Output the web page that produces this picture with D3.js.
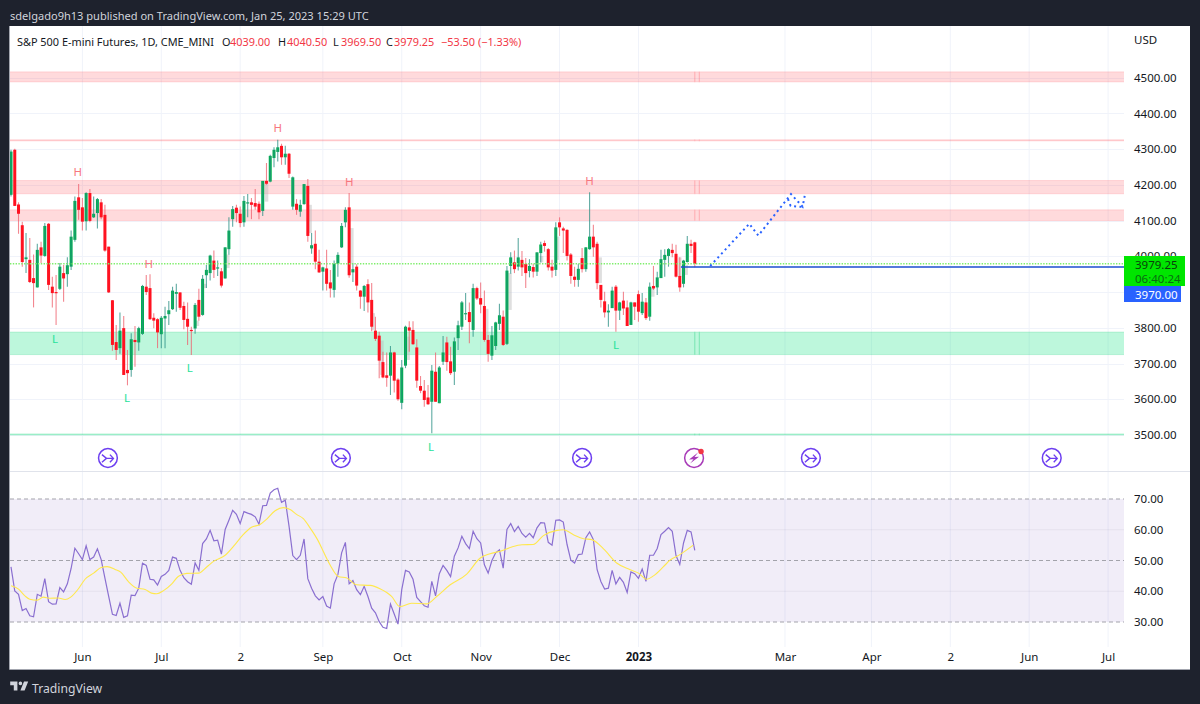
<!DOCTYPE html>
<html>
<head>
<meta charset="utf-8">
<style>
  html, body { margin: 0; background: #1e222d; }
  svg { display: block; font-family: 'Noto Sans', sans-serif; }
  .axis text { fill: #131722; font-size: 11.5px; font-family: 'Noto Sans', sans-serif; }
  .axis path, .axis line { display: none; }
</style>
<script src="https://cdn.jsdelivr.net/npm/d3@7"></script>
</head>
<body>
<svg width="1200" height="704"></svg>
<script>
const { d3 } = window

const OPENS = [
  4172,4298,4145,4087,3992,3990,3939,3913,4025,4001,
  4091,3915,3900,3909,3953,3950,3971,4046,4165,4137,
  4098,4177,4109,4121,4151,4116,4027,3877,3760,3743,
  3799,3682,3682,3766,3759,3783,3915,3911,3828,3824,
  3782,3826,3838,3852,3895,3899,3861,3825,3794,3798,
  3878,3836,3947,3953,3988,3966,3958,3938,4020,4104,
  4136,4119,4095,4148,4151,4149,4147,4127,4211,4209,
  4275,4292,4309,4277,4287,4139,4147,4125,4146,4197,
  4022,4035,3985,3957,3966,3927,3906,3979,4025,4095,
  4137,3955,3971,3904,3887,3922,3878,3792,3778,3704,
  3667,3666,3731,3655,3590,3694,3801,3794,3745,3637,
  3624,3605,3593,3677,3589,3705,3759,3706,3677,3771,
  3803,3838,3844,3794,3911,3883,3861,3766,3722,3749,
  3811,3831,3755,3973,3983,3971,3990,3979,3959,3970,
  3957,4009,4037,4020,3971,3962,4095,4078,4074,4005,
  3943,3934,3995,3964,4020,4055,4035,3920,3874,3843,
  3855,3915,3848,3876,3857,3808,3871,3894,3841,3871,
  3831,3917,3913,3939,3990,4001,4018,4007,3945,3923,
  3984,4035,4039,
]
const HIGHS = [
  4298,4301,4151,4097,4065,4051,4005,4035,4041,4093,
  4093,3943,3948,3981,3976,3997,4072,4167,4202,4163,
  4179,4188,4167,4163,4160,4144,4027,3878,3808,3843,
  3833,3738,3785,3805,3803,3920,3948,3950,3841,3827,
  3833,3859,3875,3915,3923,3899,3873,3871,3803,3869,
  3909,3948,3976,4004,4016,3988,3967,4025,4109,4141,
  4144,4139,4169,4174,4163,4188,4153,4211,4261,4284,
  4305,4326,4315,4309,4289,4223,4160,4158,4202,4216,
  4065,4072,4018,3971,4018,3962,3988,4011,4093,4137,
  4177,3981,3978,3906,3920,3936,3925,3831,3789,3733,
  3731,3749,3733,3659,3710,3806,3818,3818,3768,3665,
  3654,3640,3696,3731,3693,3777,3775,3747,3773,3820,
  3875,3897,3871,3923,3915,3927,3904,3780,3805,3817,
  3867,3848,3973,4011,4016,4051,4015,3995,3992,3979,
  4011,4041,4044,4023,3990,4095,4109,4083,4076,4009,
  3971,3979,4023,4025,4179,4088,4041,3920,3901,3866,
  3915,3920,3873,3901,3876,3873,3871,3904,3897,3883,
  3927,3973,3957,4018,4020,4023,4035,4032,3997,3990,
  4057,4046,4040.5,
]
const LOWS = [
  4167,4141,4063,3971,3953,3925,3857,3913,3981,3999,
  3906,3857,3808,3906,3873,3915,3962,4041,4102,4072,
  4072,4095,4107,4078,4104,4013,3897,3736,3710,3727,
  3668,3639,3663,3691,3736,3780,3892,3822,3799,3743,
  3743,3743,3808,3850,3845,3850,3796,3752,3724,3783,
  3820,3834,3911,3932,3939,3945,3913,3938,4004,4083,
  4095,4081,4083,4109,4104,4130,4104,4113,4200,4207,
  4249,4265,4256,4256,4219,4130,4116,4111,4144,4041,
  4007,3964,3953,3904,3904,3885,3885,3943,4023,4081,
  3940,3928,3904,3853,3847,3843,3790,3763,3659,3659,
  3635,3612,3619,3596,3572,3687,3733,3752,3632,3617,
  3579,3584,3505,3593,3589,3696,3680,3668,3640,3738,
  3794,3822,3757,3775,3878,3841,3761,3705,3710,3738,
  3794,3749,3752,3951,3953,3960,3945,3911,3941,3941,
  3945,3983,4013,3960,3941,3945,4057,4009,3988,3923,
  3915,3915,3955,3957,4018,3999,3908,3857,3829,3803,
  3855,3789,3822,3836,3805,3808,3822,3817,3836,3822,
  3820,3906,3892,3939,3943,3971,3997,3941,3901,3913,
  3983,4009,3969.5,
]
const CLOSES = [
  4293,4141,4119,3984,3997,3928,3925,4018,4002,4085,
  3920,3897,3897,3971,3938,3975,4055,4155,4130,4097,
  4177,4099,4119,4160,4109,4016,3899,3752,3738,3792,
  3668,3673,3768,3760,3799,3917,3900,3824,3820,3787,
  3828,3833,3849,3904,3900,3856,3822,3803,3791,3864,
  3831,3937,3962,4002,3962,3969,3918,4025,4072,4132,
  4121,4093,4155,4151,4144,4139,4123,4211,4203,4281,
  4298,4305,4277,4287,4231,4221,4130,4144,4202,4057,
  4031,3985,3955,3969,3923,3910,3979,4004,4085,4130,
  3947,3964,3918,3887,3917,3871,3803,3769,3708,3661,
  3660,3731,3652,3600,3689,3803,3792,3754,3652,3624,
  3598,3586,3680,3593,3689,3731,3704,3673,3762,3807,
  3871,3841,3816,3911,3882,3865,3766,3727,3779,3815,
  3835,3752,3960,3997,3964,3997,3969,3953,3973,3957,
  4011,4033,4029,3969,3960,4081,4081,4072,4001,3945,
  3934,3965,3964,4025,4055,4025,3925,3878,3843,3848,
  3904,3848,3871,3854,3805,3871,3859,3845,3873,3827,
  3915,3910,3941,3992,4004,4020,4009,3943,3913,3988,
  4035,4029,3979.25,
]
const RSI = [
  47.9,40.1,39.0,33.7,34.4,32.0,31.7,39.0,38.4,44.1,
  36.6,35.8,35.9,41.2,39.8,42.4,47.4,54.0,52.2,50.3,
  54.8,50.3,51.1,53.8,50.3,44.3,38.3,32.5,32.1,36.1,
  31.5,32.0,38.7,38.6,41.0,49.1,48.4,43.9,43.7,42.0,
  44.8,45.5,46.8,51.1,50.7,46.8,44.4,43.1,42.3,49.2,
  46.8,55.5,57.0,59.8,56.4,56.6,52.1,60.1,63.1,66.3,
  65.0,62.0,65.9,65.4,65.0,64.2,61.8,67.8,67.9,71.9,
  73.0,73.5,68.9,69.6,61.2,51.6,50.3,51.7,57.0,44.1,
  41.0,38.5,37.2,38.3,35.2,34.5,42.4,45.4,52.5,55.9,
  42.4,43.5,40.5,38.9,41.6,38.3,34.5,33.0,30.1,28.3,
  27.9,35.8,32.6,29.3,40.5,46.8,46.3,43.9,38.0,36.6,
  35.3,34.8,43.2,38.5,45.7,48.4,46.8,44.8,51.4,54.1,
  57.9,55.5,53.9,59.5,57.1,55.7,48.6,45.9,50.0,52.5,
  53.5,47.5,60.1,62.0,59.4,61.1,58.8,57.6,58.8,57.4,
  60.6,62.3,62.2,55.9,55.0,63.1,63.2,62.5,55.2,50.1,
  49.2,51.9,52.1,57.4,59.3,56.8,47.0,43.2,40.7,41.0,
  46.8,42.4,44.5,42.9,39.6,46.3,45.7,44.2,47.2,43.2,
  51.7,51.7,53.9,58.4,59.5,60.7,59.5,51.6,48.7,55.7,
  59.8,59.3,53.3,
]

// rsi average, read at the bends only
const MA_BARS = [
  0,2,3.7,5,7,8.6,10.4,12.6,14.4,15.9,18,19.7,22,24,25.6,27.7,29.2,31.2,33.5,35.7,
  37.4,38.8,40.6,42.8,44.5,46.8,49.9,52.1,53.9,57,59.2,61.8,64,66.3,68,70.3,72.5,74.3,76,77.8,
  79.6,81.8,83.1,84.9,87.1,89.4,92,95.6,98.2,101.3,103.5,106.6,110.6,113.3,116.9,121.3,124.9,127.5,130.2,133.3,
  136,139,141.7,145.3,147,149.7,152.4,154.6,157.7,161.2,164.8,167,169.2,171,173.6,175.4,178,181.6,
]
const MA_VALUES = [
  41.8,40.7,38.5,37.4,37.1,38.1,37.7,37.8,37.3,38.1,40.9,43.9,45.9,47.7,48.0,47.1,46.2,43.2,41.0,40.6,
  39.4,39.2,40.2,42.4,44.8,45.8,45.9,47.9,49.7,51.7,54.6,58.4,60.8,61.7,63.4,66.2,67.2,66.6,65.0,63.6,
  60.6,56.3,53.0,48.6,44.8,44.3,42.1,41.9,40.8,38.3,35.0,36.1,35.9,38.3,42.1,45.6,50.8,52.2,53.0,54.4,
  55.1,55.2,58.1,59.8,60.0,58.4,57.1,56.8,53.8,49.2,47.0,45.9,43.9,45.0,47.9,50.1,51.9,55.0,
]

// [bar, top, bottom] of the faint grey candles behind the real ones
const GHOSTS = [
  [49.6,3820,3805],[51.6,3923,3911],[57.7,4005,3967],[68,4205,4153],[79.6,4144,4065],[90.7,4079,3981],
  [96.4,3841,3794],[98.7,3764,3668],[105.7,3775,3710],[126.6,3853,3766],[132.8,3953,3850],[141.2,4001,3983],
  [145.4,4055,3990],[156.8,3997,3925],[170.8,3911,3887],[178,3997,3943],[179.7,3976,3948],
]

const PINK_ZONES = [[4516,4488],[4326,4323],[4212,4175],[4130,4100]]
const GREEN_ZONES = [[3788,3725],[3503,3500]]

const HIGH_MARKS = [[17.8,4236],[71,4359],[90,4208],[36.7,3981],[154,4211]]
const LOW_MARKS = [[11.7,3771],[30.9,3606],[47.6,3690],[111.8,3468],[161,3754]]

const FORECAST_MAIN = [[186.1,3973],[196.5,4091],[198.9,4058],[207.6,4174],[210.7,4139],[211.3,4172]]
const FORECAST_SIDE = [[206.8,4160],[207.5,4141],[210.7,4138]]

const SPLIT_BARS = [25.8,87.8,152,212.9,277]
const EARNINGS_BAR = 181.8

const PRICE_TICKS = [3500,3600,3700,3800,3900,4000,4100,4200,4300,4400,4500]
const RSI_TICKS = [30,40,50,60,70]
const TIME_BARS = [19,40,61,83,104,125,146,167,206,229,250,271,292]
const TIME_LABELS = ['Jun','Jul','2','Sep','Oct','Nov','Dec','2023','Mar','Apr','2','Jun','Jul']

const LAST_PRICE = 3979.25
const ORDER_PRICE = 3970

const LEFT = 10
const AXIS_X = 1124
const RIGHT = 1190
const TOP = 26
const BOTTOM = 669

const x = d3.scaleLinear().domain([0, 182]).range([11, 694.8])
const y = d3.scaleLinear().domain([3500, 4500]).range([435, 77.6])
const yRsi = d3.scaleLinear().domain([30, 70]).range([622, 499])

const SVG = d3.select('svg')

SVG.append('rect').attr('width', 1200).attr('height', 704).attr('fill', '#1e222d')
SVG.append('rect')
  .attr('x', LEFT)
  .attr('y', TOP)
  .attr('width', RIGHT - LEFT)
  .attr('height', BOTTOM - TOP)
  .attr('fill', '#fff')
SVG.append('path')
  .attr('d', `M${LEFT - 0.5},${TOP}V${BOTTOM + 0.5}H${RIGHT}`)
  .attr('fill', 'none')
  .attr('stroke', '#a3a6af')

SVG.append('defs')
  .append('clipPath')
  .attr('id', 'pane')
  .append('rect')
  .attr('x', LEFT)
  .attr('y', TOP)
  .attr('width', AXIS_X - LEFT)
  .attr('height', BOTTOM - TOP)

const CHART = SVG.append('g').attr('clip-path', 'url(#pane)')

// grid
CHART.selectAll('.v-grid')
  .data(TIME_BARS)
  .join('line')
  .attr('x1', d => x(d))
  .attr('x2', d => x(d))
  .attr('y1', TOP)
  .attr('y2', BOTTOM - 22)
  .attr('stroke', '#f0f3fa')
CHART.selectAll('.h-grid')
  .data(PRICE_TICKS)
  .join('line')
  .attr('x1', LEFT)
  .attr('x2', AXIS_X)
  .attr('y1', d => Math.round(y(d)) + 0.5)
  .attr('y2', d => Math.round(y(d)) + 0.5)
  .attr('stroke', '#f0f3fa')

// zones, split in three boxes so the seam at the last bar shows as two thin edges
const drawZones = (zones, fill, edge) => {
  const STOPS = [LEFT - 2, x(182), x(183.2), AXIS_X + 2]
  for (const [from, to] of d3.pairs(STOPS)) {
    CHART.append('g')
      .selectAll('rect')
      .data(zones)
      .join('rect')
      .attr('x', from)
      .attr('width', to - from)
      .attr('y', d => y(d[0]))
      .attr('height', d => y(d[1]) - y(d[0]))
      .attr('fill', fill)
      .attr('stroke', edge)
  }
}
drawZones(PINK_ZONES, 'rgba(255,70,80,0.2)', 'rgba(255,70,80,0.16)')
drawZones(GREEN_ZONES, 'rgba(0,225,120,0.26)', 'rgba(0,200,110,0.2)')

// ghost candles
CHART.selectAll('.ghost')
  .data(GHOSTS)
  .join('rect')
  .attr('x', d => x(d[0]) - 1.8)
  .attr('width', 3.6)
  .attr('y', d => y(d[1]))
  .attr('height', d => y(d[2]) - y(d[1]))
  .attr('fill', '#b8b8b8')
  .attr('opacity', 0.45)

// candles
const BARS = d3.range(OPENS.length)
const isUp = i => CLOSES[i] >= OPENS[i]

CHART.selectAll('.wick-red')
  .data(BARS.filter(i => !isUp(i)))
  .join('line')
  .attr('x1', i => x(i))
  .attr('x2', i => x(i))
  .attr('y1', i => y(HIGHS[i]))
  .attr('y2', i => y(LOWS[i]))
  .attr('stroke', '#ef5f6c')
  .attr('stroke-width', 1.1)
  .attr('opacity', 0.75)
CHART.selectAll('.body')
  .data(BARS)
  .join('rect')
  .attr('x', i => x(i) - 1.5)
  .attr('width', 3)
  .attr('y', i => y(Math.max(OPENS[i], CLOSES[i])))
  .attr('height', i => Math.max(1.2, Math.abs(y(OPENS[i]) - y(CLOSES[i]))))
  .attr('fill', i => (isUp(i) ? '#00b04f' : '#ff1220'))
CHART.selectAll('.wick-green')
  .data(BARS.filter(isUp))
  .join('line')
  .attr('x1', i => x(i))
  .attr('x2', i => x(i))
  .attr('y1', i => y(HIGHS[i]))
  .attr('y2', i => y(LOWS[i]))
  .attr('stroke', '#2a8f84')
  .attr('stroke-width', 1.1)
  .attr('opacity', 0.75)

// price lines
CHART.append('line')
  .attr('x1', LEFT)
  .attr('x2', AXIS_X)
  .attr('y1', y(LAST_PRICE))
  .attr('y2', y(LAST_PRICE))
  .attr('stroke', '#7fee6c')
  .attr('stroke-width', 1.4)
  .attr('stroke-dasharray', '1.4 1.4')
CHART.append('line')
  .attr('x1', x(178.3))
  .attr('x2', AXIS_X)
  .attr('y1', y(ORDER_PRICE))
  .attr('y2', y(ORDER_PRICE))
  .attr('stroke', '#1d4ed0')
  .attr('stroke-width', 1.4)

// forecast
const forecastLine = d3.line().x(d => x(d[0])).y(d => y(d[1]))
for (const POINTS of [FORECAST_MAIN, FORECAST_SIDE]) {
  CHART.append('path')
    .attr('d', forecastLine(POINTS))
    .attr('fill', 'none')
    .attr('stroke', '#2962ff')
    .attr('stroke-width', 2)
    .attr('stroke-dasharray', '2 3.4')
}

// swing marks
const drawMarks = (marks, label, color) => {
  CHART.append('g')
    .selectAll('text')
    .data(marks)
    .join('text')
    .attr('x', d => x(d[0]))
    .attr('y', d => y(d[1]))
    .attr('text-anchor', 'middle')
    .attr('dominant-baseline', 'central')
    .attr('font-size', 11.5)
    .attr('fill', color)
    .text(label)
}
drawMarks(HIGH_MARKS, 'H', '#f7777f')
drawMarks(LOW_MARKS, 'L', '#27e29b')

// event icons
const ICON_Y = 458
const SPLITS = CHART.selectAll('.split')
  .data(SPLIT_BARS)
  .join('g')
  .attr('transform', d => `translate(${x(d)},${ICON_Y})`)
SPLITS.append('circle')
  .attr('r', 9.4)
  .attr('fill', '#fff')
  .attr('stroke', '#6d3ff0')
  .attr('stroke-width', 1.5)
SPLITS.append('path')
  .attr('d', 'M-6,-3.4L-1.5,0.4L5.5,0.4M-6,4.2L-1.5,0.4M2,-3.4L5.5,0.4L2,4.2')
  .attr('fill', 'none')
  .attr('stroke', '#6d3ff0')
  .attr('stroke-width', 1.4)

const EARNINGS = CHART.append('g').attr('transform', `translate(${x(EARNINGS_BAR)},${ICON_Y})`)
EARNINGS.append('circle')
  .attr('r', 9.4)
  .attr('fill', '#fff')
  .attr('stroke', '#a83bb8')
  .attr('stroke-width', 1.5)
EARNINGS.append('path')
  .attr('d', 'M4,-5.5L-5,1.5L-0.5,1.2L-4,5.5L5,-1.2L0.5,-1Z')
  .attr('fill', '#a83bb8')
EARNINGS.append('circle')
  .attr('cx', 7)
  .attr('cy', -6.5)
  .attr('r', 2.7)
  .attr('fill', '#f23645')

// separator between the panes
CHART.append('line')
  .attr('x1', LEFT)
  .attr('x2', AXIS_X)
  .attr('y1', 471.5)
  .attr('y2', 471.5)
  .attr('stroke', '#e0e3eb')
SVG.append('line')
  .attr('x1', AXIS_X)
  .attr('x2', RIGHT)
  .attr('y1', 471.5)
  .attr('y2', 471.5)
  .attr('stroke', '#e0e3eb')

// rsi pane
CHART.append('rect')
  .attr('x', LEFT)
  .attr('width', AXIS_X - LEFT)
  .attr('y', yRsi(70))
  .attr('height', yRsi(30) - yRsi(70))
  .attr('fill', 'rgba(126,87,194,0.11)')
CHART.selectAll('.rsi-grid')
  .data(RSI_TICKS)
  .join('line')
  .attr('x1', LEFT)
  .attr('x2', AXIS_X)
  .attr('y1', d => yRsi(d))
  .attr('y2', d => yRsi(d))
  .attr('stroke', d => (d % 20 === 10 ? '#a3a3ab' : 'rgba(120,120,150,0.1)'))
  .attr('stroke-dasharray', d => (d % 20 === 10 ? '4 3' : null))
  .attr('stroke-width', d => (d % 20 === 10 ? 1.2 : 1))

const rsiLine = d3.line().x((d, i) => x(i)).y(d => yRsi(d))
CHART.append('path')
  .attr('d', rsiLine(RSI))
  .attr('fill', 'none')
  .attr('stroke', '#8a6fd0')
  .attr('stroke-width', 1.2)

const maLine = d3
  .line()
  .x(d => x(d))
  .y((d, i) => yRsi(MA_VALUES[i]))
  .curve(d3.curveMonotoneX)
CHART.append('path')
  .attr('d', maLine(MA_BARS))
  .attr('fill', 'none')
  .attr('stroke', '#ffe84d')
  .attr('stroke-width', 1.1)

// axes
SVG.append('g')
  .attr('class', 'axis')
  .attr('transform', `translate(${AXIS_X},0)`)
  .call(d3.axisRight(y).tickValues(PRICE_TICKS).tickSize(0).tickPadding(10).tickFormat(d3.format('.2f')))
SVG.append('g')
  .attr('class', 'axis')
  .attr('transform', `translate(${AXIS_X},0)`)
  .call(d3.axisRight(yRsi).tickValues(RSI_TICKS).tickSize(0).tickPadding(10).tickFormat(d3.format('.2f')))
SVG.append('g')
  .attr('class', 'axis')
  .attr('transform', 'translate(0,649)')
  .call(
    d3
      .axisBottom(x)
      .tickValues(TIME_BARS)
      .tickSize(0)
      .tickPadding(4)
      .tickFormat((d, i) => TIME_LABELS[i])
  )
  .selectAll('text')
  .attr('font-weight', (d, i) => (TIME_LABELS[i] === '2023' ? 700 : null))

// price labels
SVG.append('rect').attr('x', AXIS_X).attr('y', 256).attr('width', 61).attr('height', 30).attr('fill', '#00e600')
SVG.append('rect').attr('x', AXIS_X).attr('y', 286).attr('width', 57).attr('height', 16).attr('fill', '#2962ff')
const addText = (label, left, top, color, size = 11.5, weight = 400) =>
  SVG.append('text')
    .attr('x', left)
    .attr('y', top)
    .attr('dominant-baseline', 'central')
    .attr('font-size', size)
    .attr('font-weight', weight)
    .attr('fill', color)
    .text(label)

addText(d3.format('.2f')(LAST_PRICE), 1135, 264, '#0b3d0b')
addText('06:40:24', 1135, 278, '#0a6a12')
addText(d3.format('.2f')(ORDER_PRICE), 1135, 294, '#fff')
addText('USD', 1134, 39, '#131722')

// texts
const LEGEND_SIZE = 10.9
const RED = '#f23645'
addText('sdelgado9h13 published on TradingView.com, Jan 25, 2023 15:29 UTC', 10, 15, '#d1d4dc', 11.05)
addText('S&P 500 E-mini Futures, 1D, CME_MINI', 17, 41, '#131722', LEGEND_SIZE)
addText('O', 222, 41, '#131722', LEGEND_SIZE)
addText('4039.00', 230, 41, RED, LEGEND_SIZE)
addText('H', 278, 41, '#131722', LEGEND_SIZE)
addText('4040.50', 287, 41, RED, LEGEND_SIZE)
addText('L', 333, 41, '#131722', LEGEND_SIZE)
addText('3969.50', 341, 41, RED, LEGEND_SIZE)
addText('C', 386, 41, '#131722', LEGEND_SIZE)
addText('3979.25', 394, 41, RED, LEGEND_SIZE)
addText('\u221253.50 (\u22121.33%)', 441, 41, RED, LEGEND_SIZE)

// logo
SVG.append('path')
  .attr('transform', 'translate(9,678) scale(0.6)')
  .attr('d', 'M14 6H2v6h6v9h6V6zm12 15h-7l6-15h7l-6 15zm-7-9a3 3 0 1 0 0-6 3 3 0 0 0 0 6z')
  .attr('fill', '#d1d4dc')
addText('TradingView', 32, 688, '#d1d4dc', 12.2)
</script>
</body>
</html>
